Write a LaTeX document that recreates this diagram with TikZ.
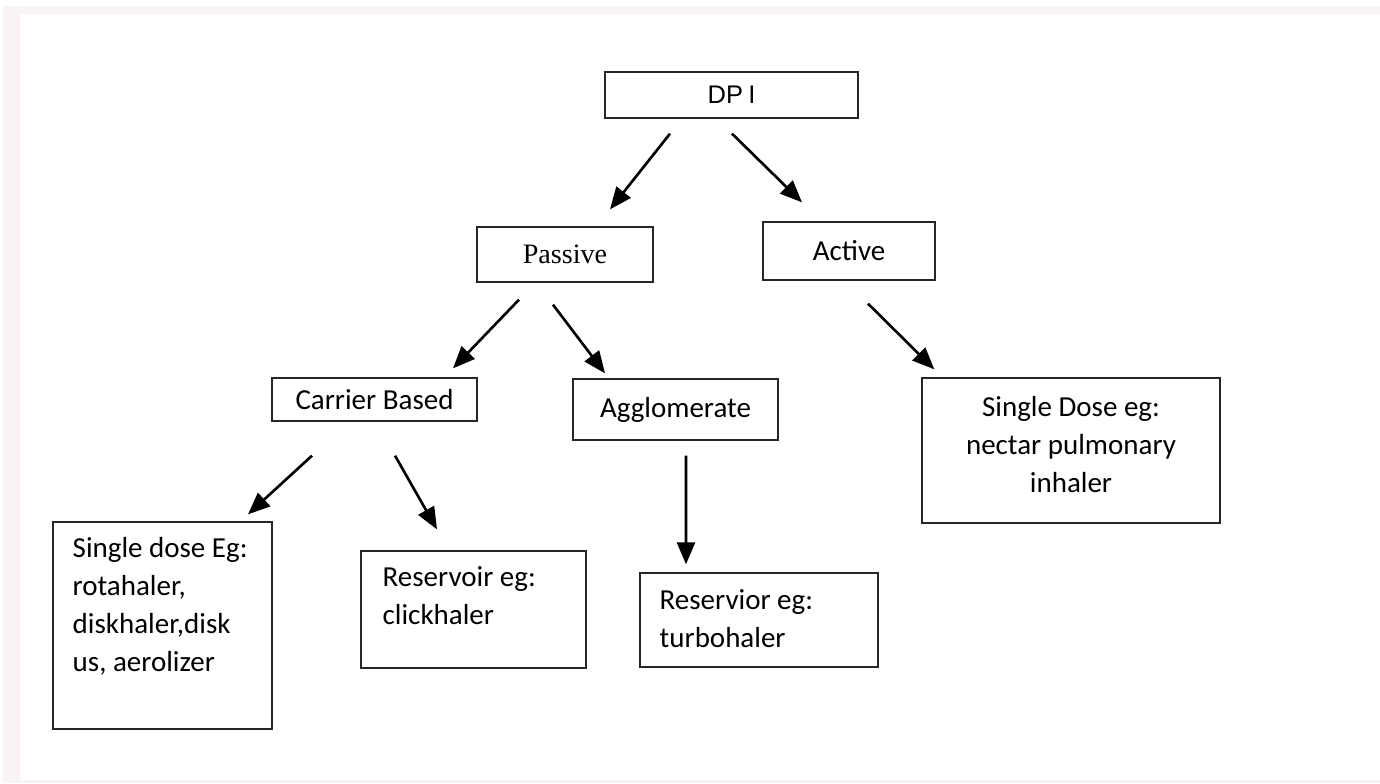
\documentclass[tikz,border=0pt]{standalone}
\usepackage{fontspec}
\setmainfont{Carlito}
\newfontfamily\arialfont{Liberation Sans}
\newfontfamily\timesfont{Liberation Serif}
\usetikzlibrary{arrows.meta}
\definecolor{bgpink}{RGB}{250,243,243}

\begin{document}
\begin{tikzpicture}[box/.style={draw=black!85, line width=0.75pt, inner sep=0pt, font=\fontsize{16.5}{21.5}\selectfont}, txt/.style={inner sep=0pt, anchor=north west, align=left, font=\fontsize{16.5}{21.5}\selectfont}, arr/.style={-{Triangle[length=4.4mm, width=3.6mm]}, line width=1.5pt}]

\useasboundingbox (0,0) rectangle (27.6,-15.66);
\fill[bgpink] (0.06,-0.12) rectangle (27.6,-0.28); \fill[bgpink] (0.06,-0.12) rectangle (0.4,-15.66); \fill[bgpink] (0.06,-15.6) rectangle (27.6,-15.66);

\node[box, font=\arialfont\fontsize{14.5}{16}\selectfont, minimum width=5.06cm, minimum height=0.92cm] (dpi) at (14.63,-1.90) {DP\kern3pt I};
\node[box, font=\timesfont\fontsize{16}{19}\selectfont, minimum width=3.52cm, minimum height=1.10cm] (passive) at (11.30,-5.09) {Passive};
\node[box, minimum width=3.44cm, minimum height=1.16cm] (active) at (16.98,-5.02) {Active};
\node[box, minimum width=4.10cm, minimum height=0.86cm] (carrier) at (7.49,-7.99) {Carrier Based};
\node[box, minimum width=4.10cm, minimum height=1.22cm] (agglo) at (13.51,-8.19) {Agglomerate};
\node[box, minimum width=5.96cm, minimum height=2.90cm] (nectar) at (21.42,-9.01) {};
\node[box, minimum width=4.38cm, minimum height=4.14cm] (rota) at (3.25,-12.51) {};
\node[box, minimum width=4.50cm, minimum height=2.34cm] (click) at (9.47,-12.19) {};
\node[box, minimum width=4.76cm, minimum height=1.88cm] (turbo) at (15.18,-12.40) {};

% texts of the example boxes
\node[txt, anchor=north, align=center] (nectar-t) at ([yshift=-0.38cm]nectar.north) {Single Dose eg:\\nectar pulmonary\\inhaler};
\node[txt] (rota-t) at ([shift={(0.40,-0.32)}]rota.north west) {Single dose Eg:\\rotahaler,\\diskhaler,disk\\us, aerolizer};
\node[txt] (click-t) at ([shift={(0.44,-0.32)}]click.north west) {Reservoir eg:\\clickhaler};
\node[txt] (turbo-t) at ([shift={(0.40,-0.34)}]turbo.north west) {Reservior eg:\\turbohaler};

\draw[arr] ([shift={(-1.23,-0.30)}]dpi.south) -- ([shift={(0.90,0.34)}]passive.north); \draw[arr] ([shift={(0.01,-0.30)}]dpi.south) -- ([shift={(-0.94,0.38)}]active.north);
\draw[arr] ([shift={(-0.92,-0.34)}]passive.south) -- ([shift={(1.57,0.18)}]carrier.north); \draw[arr] ([shift={(-0.24,-0.44)}]passive.south) -- ([shift={(-1.41,0.10)}]agglo.north);
\draw[arr] ([shift={(0.38,-0.46)}]active.south) -- ([shift={(0.26,0.16)}]nectar.north west);
\draw[arr] ([shift={(-1.25,-0.68)}]carrier.south) -- ([shift={(1.71,0.14)}]rota.north); \draw[arr] ([shift={(0.41,-0.68)}]carrier.south) -- ([shift={(-0.73,0.42)}]click.north);
\draw[arr] ([shift={(0.21,-0.30)}]agglo.south) -- ([shift={(-1.46,0.16)}]turbo.north);
\end{tikzpicture}
\end{document}
